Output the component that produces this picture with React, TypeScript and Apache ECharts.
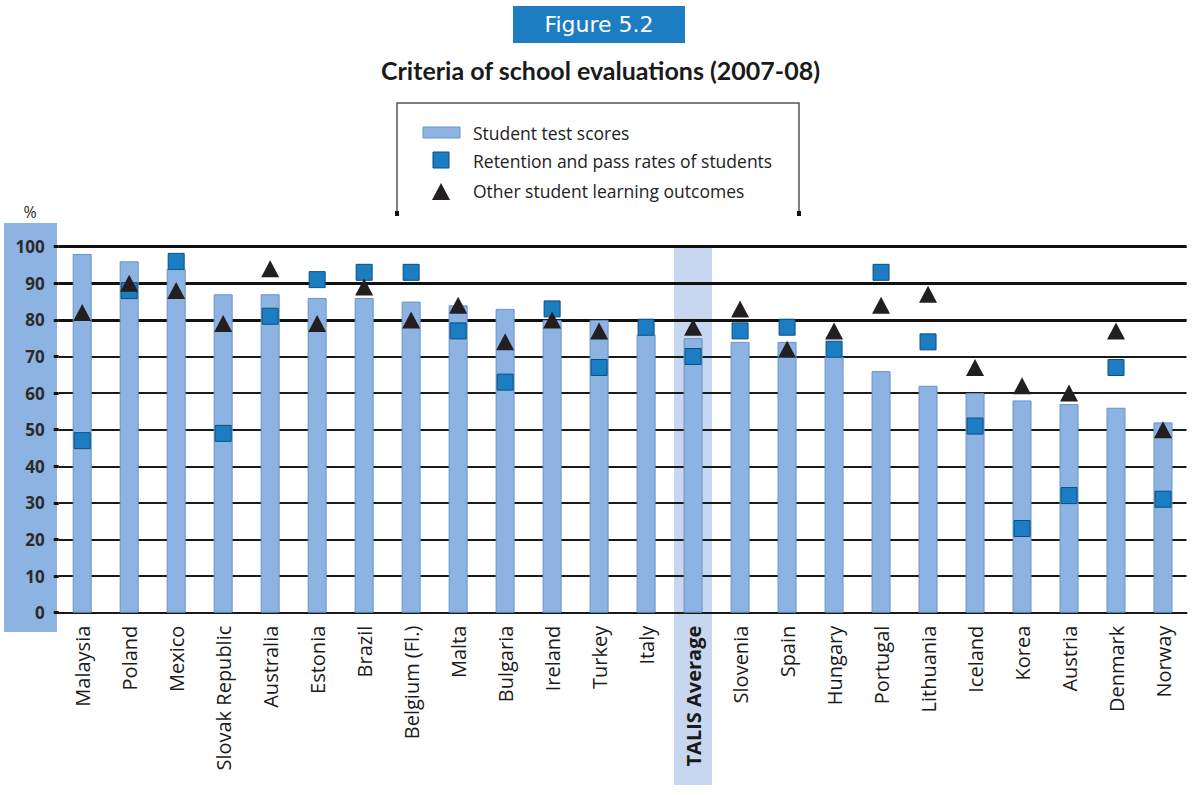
import React, { useEffect, useRef } from "react";
import * as echarts from "echarts";

const categories = [
  "Malaysia", "Poland", "Mexico", "Slovak Republic", "Australia", "Estonia", "Brazil",
  "Belgium (Fl.)", "Malta", "Bulgaria", "Ireland", "Turkey", "Italy", "TALIS Average",
  "Slovenia", "Spain", "Hungary", "Portugal", "Lithuania", "Iceland", "Korea", "Austria",
  "Denmark", "Norway",
];
const testScores = [98, 96, 94, 87, 87, 86, 86, 85, 84, 83, 80, 80, 76, 75, 74, 74, 70, 66, 62, 60, 58, 57, 56, 52];
const retentionRates = [47, 88, 96, 49, 81, 91, 93, 93, 77, 63, 83, 67, 78, 70, 77, 78, 72, 93, 74, 51, 23, 32, 67, 31];
const otherOutcomes = [82, 90, 88, 79, 94, 79, 89, 80, 84, 74, 80, 77, null, 78, 83, 72, 77, 84, 87, 67, 62, 60, 77, 50];
const yTicks = [0, 10, 20, 30, 40, 50, 60, 70, 80, 90, 100];
const boldLines = [80, 90, 100];

const BAR = "#8DB3E2";
const BAR_BORDER = "#6A93C6";
const SQ = "#1B7EC2";
const TRI = "#231F20";
const FONT = "'Open Sans', 'Noto Sans', sans-serif";

export default function App() {
  const ref = useRef<HTMLDivElement>(null);
  useEffect(() => {
    if (!ref.current) return;
    const chart = echarts.init(ref.current, undefined, { renderer: "svg" });
    const option: any = {
      animation: false,
      backgroundColor: "#ffffff",
      title: {
        text: "Criteria of school evaluations (2007-08)",
        left: "center",
        top: 52,
        textStyle: { fontFamily: "Lato, sans-serif", fontWeight: "bold", fontSize: 25, color: "#1a1a1a" },
      },
      grid: { left: 58.7, right: 14.5, top: 246.7, bottom: 182.3, containLabel: false },
      xAxis: {
        type: "category",
        data: categories.map((c) =>
          c === "TALIS Average" ? { value: c, textStyle: { fontWeight: "bold" } } : c
        ),
        axisLine: { lineStyle: { color: "#1a1a1a", width: 2 } },
        axisTick: { show: false },
        axisLabel: {
          rotate: 90,
          interval: 0,
          margin: 13,
          fontSize: 20,
          fontFamily: FONT,
          color: "#1a1a1a",
        },
      },
      yAxis: {
        type: "value",
        min: 0,
        max: 100,
        interval: 10,
        axisLine: { show: false },
        axisTick: { show: true, length: 5, lineStyle: { color: "#111", width: 3 } },
        axisLabel: {
          margin: 14,
          fontSize: 17,
          fontWeight: "bold",
          fontFamily: "'Noto Sans', sans-serif",
          color: "#2a2a2a",
          formatter: (v: number) => (yTicks.includes(v) ? String(v) : ""),
        },
        splitLine: { lineStyle: { color: "#1a1a1a", width: 1.8 } },
      },
      series: [
        {
          name: "Student test scores",
          type: "bar",
          data: testScores,
          barWidth: 19,
          itemStyle: { color: BAR, borderColor: BAR_BORDER, borderWidth: 1 },
          markLine: {
            silent: true,
            symbol: "none",
            label: { show: false },
            lineStyle: { color: "#111", width: 3.2, type: "solid" },
            data: boldLines.map((v) => ({ yAxis: v })),
            z: 1,
          },
        },
        {
          name: "Retention and pass rates of students",
          type: "scatter",
          data: retentionRates,
          symbol: "rect",
          symbolSize: 16,
          itemStyle: { color: SQ, borderColor: "#0E4E80", borderWidth: 1, opacity: 1 },
          z: 3,
        },
        {
          name: "Other student learning outcomes",
          type: "scatter",
          data: otherOutcomes,
          symbol: "triangle",
          symbolSize: [18, 17],
          itemStyle: { color: TRI, opacity: 1 },
          z: 4,
        },
      ],
      graphic: [
        { type: "rect", z: -10, shape: { x: 4, y: 223, width: 53, height: 409 }, style: { fill: BAR } },
        { type: "rect", z: -10, shape: { x: 674, y: 248, width: 38, height: 537 }, style: { fill: "#C6D7EF" } },
        { type: "rect", shape: { x: 513, y: 6, width: 172, height: 37 }, style: { fill: "#1D7DC3" } },
        {
          type: "text",
          x: 599,
          y: 24.5,
          style: {
            text: "Figure 5.2",
            fill: "#ffffff",
            fontSize: 22,
            fontFamily: "'DejaVu Sans', sans-serif",
            align: "center",
            verticalAlign: "middle",
          },
        },
        {
          type: "text",
          x: 30,
          y: 212,
          style: { text: "%", fill: "#2a2a2a", fontSize: 16, fontFamily: FONT, align: "center", verticalAlign: "middle" },
        },
        {
          type: "polyline",
          shape: { points: [[397, 213], [397, 103], [799, 103], [799, 213]] },
          style: { stroke: "#555", lineWidth: 1.5, fill: null },
        },
        { type: "rect", shape: { x: 395, y: 211, width: 4, height: 5 }, style: { fill: "#111" } },
        { type: "rect", shape: { x: 797, y: 211, width: 4, height: 5 }, style: { fill: "#111" } },
        { type: "rect", shape: { x: 423, y: 127, width: 37, height: 11 }, style: { fill: BAR, stroke: BAR_BORDER, lineWidth: 1 } },
        {
          type: "text",
          x: 473,
          y: 133,
          style: { text: "Student test scores", fill: "#222", fontSize: 17.5, fontFamily: FONT, verticalAlign: "middle" },
        },
        { type: "rect", shape: { x: 433, y: 152, width: 16, height: 16 }, style: { fill: SQ, stroke: "#0E4E80", lineWidth: 1 } },
        {
          type: "text",
          x: 473,
          y: 161,
          style: { text: "Retention and pass rates of students", fill: "#222", fontSize: 17.5, fontFamily: FONT, verticalAlign: "middle" },
        },
        { type: "polygon", shape: { points: [[441, 183], [432, 200], [450, 200]] }, style: { fill: TRI } },
        {
          type: "text",
          x: 473,
          y: 191,
          style: { text: "Other student learning outcomes", fill: "#222", fontSize: 17.5, fontFamily: FONT, verticalAlign: "middle" },
        },
      ],
    };
    chart.setOption(option);
    return () => chart.dispose();
  }, []);
  return (
    <div
      ref={ref}
      style={{ position: "absolute", left: 0, top: 0, width: 1201, height: 795, background: "#fff" }}
    />
  );
}
